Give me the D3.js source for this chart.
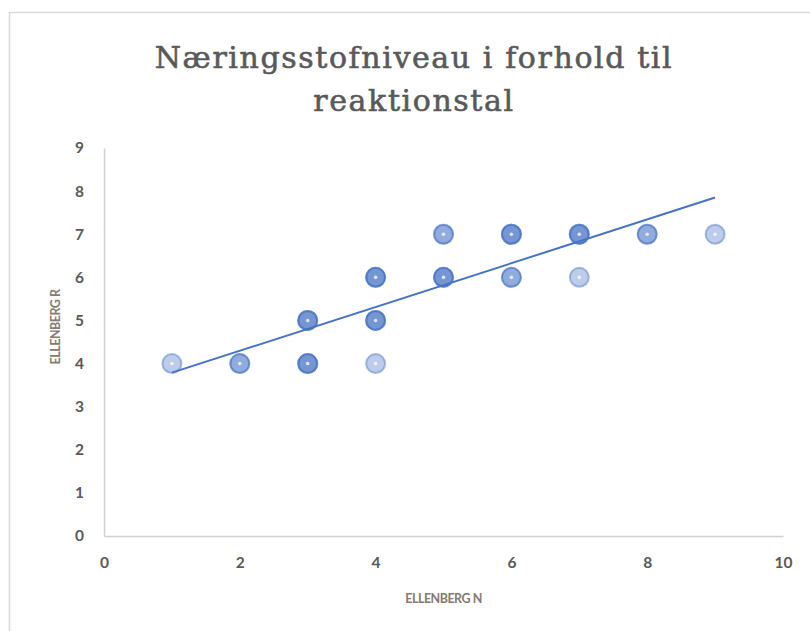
<!DOCTYPE html>
<html>
<head>
<meta charset="utf-8">
<script src="https://cdnjs.cloudflare.com/ajax/libs/d3/7.8.5/d3.min.js"></script>
<style>
  body { margin: 0; background: #fff; }
  .tick text { font-family: Lato, "Open Sans", sans-serif; font-weight: bold; font-size: 15.5px; fill: #595959; }
  .axis-title { font-family: Lato, "Open Sans", sans-serif; font-weight: bold; font-size: 12.5px; fill: #837a72; letter-spacing: -0.5px; }
</style>
</head>
<body>
<div id="chart"></div>
<script>
var width = 810;
var height = 631;

// data: Ellenberg N (x), Ellenberg R (y), number of observations at each point
var ellenbergN = [1, 2, 3, 4, 3, 4, 4, 5, 5, 6, 6, 7, 7, 8, 9];
var ellenbergR = [4, 4, 4, 4, 5, 5, 6, 6, 7, 6, 7, 6, 7, 7, 7];
var counts     = [1, 2, 3, 1, 3, 3, 3, 3, 2, 2, 3, 1, 3, 2, 1];

var xTicks = [0, 2, 4, 6, 8, 10];
var yTicks = [0, 1, 2, 3, 4, 5, 6, 7, 8, 9];

var titleLines = ["Næringsstofniveau i forhold til", "reaktionstal"];

// one row per observation
var points = [];
ellenbergN.forEach(function(n, i) {
  for (var k = 0; k < counts[i]; k++) points.push({x: n, y: ellenbergR[i]});
});

var svg = d3.select("#chart").append("svg")
  .attr("width", width)
  .attr("height", height);

// chart border
svg.append("rect")
  .attr("x", 9.5).attr("y", 12.5)
  .attr("width", 900).attr("height", 700)
  .attr("fill", "none")
  .attr("stroke", "#d9d9d9")
  .attr("stroke-width", 1.5);

var xScale = d3.scaleLinear().domain([0, 10]).range([104, 783]);
var yScale = d3.scaleLinear().domain([0, 9]).range([536, 148]);

// title
svg.append("text")
  .attr("text-anchor", "middle")
  .attr("x", 414)
  .style("font-family", "'DejaVu Serif', serif")
  .style("font-size", "30px")
  .style("letter-spacing", "1.6px")
  .style("fill", "#595959")
  .style("stroke", "#595959")
  .style("stroke-width", "0.6px")
  .selectAll("tspan")
  .data(titleLines)
  .enter().append("tspan")
    .attr("x", 414)
    .attr("y", function(d, i) { return 68 + i * 43; })
    .text(function(d) { return d; });

// axes
var xAxis = d3.axisBottom(xScale).tickValues(xTicks).tickSize(0).tickPadding(21);
var yAxis = d3.axisLeft(yScale).tickValues(yTicks).tickSize(0).tickPadding(20);

var gx = svg.append("g")
  .attr("transform", "translate(0," + yScale(0) + ")")
  .call(xAxis);
gx.select(".domain").attr("stroke", "#d0d0d0").attr("stroke-width", 1.5);

var gy = svg.append("g")
  .attr("transform", "translate(" + xScale(0) + ",0)")
  .call(yAxis);
gy.select(".domain").attr("stroke", "#d0d0d0").attr("stroke-width", 1.5);

// axis titles
svg.append("text")
  .attr("class", "axis-title")
  .attr("text-anchor", "middle")
  .attr("x", (xScale(0) + xScale(10)) / 2)
  .attr("y", 603)
  .text("ELLENBERG N");

svg.append("text")
  .attr("class", "axis-title")
  .attr("text-anchor", "middle")
  .attr("transform", "translate(60," + 327 + ") rotate(-90)")
  .text("ELLENBERG R");

// linear trendline (least squares)
var mx = d3.mean(points, function(d) { return d.x; });
var my = d3.mean(points, function(d) { return d.y; });
var sxy = d3.sum(points, function(d) { return (d.x - mx) * (d.y - my); });
var sxx = d3.sum(points, function(d) { return (d.x - mx) * (d.x - mx); });
var slope = sxy / sxx;
var intercept = my - slope * mx;
var xExtent = d3.extent(ellenbergN);

var markers = svg.append("g");
markers.selectAll("circle.m")
  .data(points)
  .enter().append("circle")
    .attr("class", "m")
    .attr("cx", function(d) { return xScale(d.x); })
    .attr("cy", function(d) { return yScale(d.y); })
    .attr("r", 9.5)
    .attr("fill", "#4472c4")
    .attr("fill-opacity", 0.36)
    .attr("stroke", "#4472c4")
    .attr("stroke-opacity", 0.45)
    .attr("stroke-width", 2);

markers.selectAll("circle.c")
  .data(ellenbergN)
  .enter().append("circle")
    .attr("class", "c")
    .attr("cx", function(d) { return xScale(d); })
    .attr("cy", function(d, i) { return yScale(ellenbergR[i]); })
    .attr("r", 1.8)
    .attr("fill", "#fff")
    .attr("fill-opacity", 0.75);

var trend = d3.line()
  .x(function(d) { return xScale(d); })
  .y(function(d) { return yScale(intercept + slope * d); });

svg.append("path")
  .datum(xExtent)
  .attr("d", trend)
  .attr("fill", "none")
  .attr("stroke", "#4472c4")
  .attr("stroke-width", 2);
</script>
</body>
</html>
